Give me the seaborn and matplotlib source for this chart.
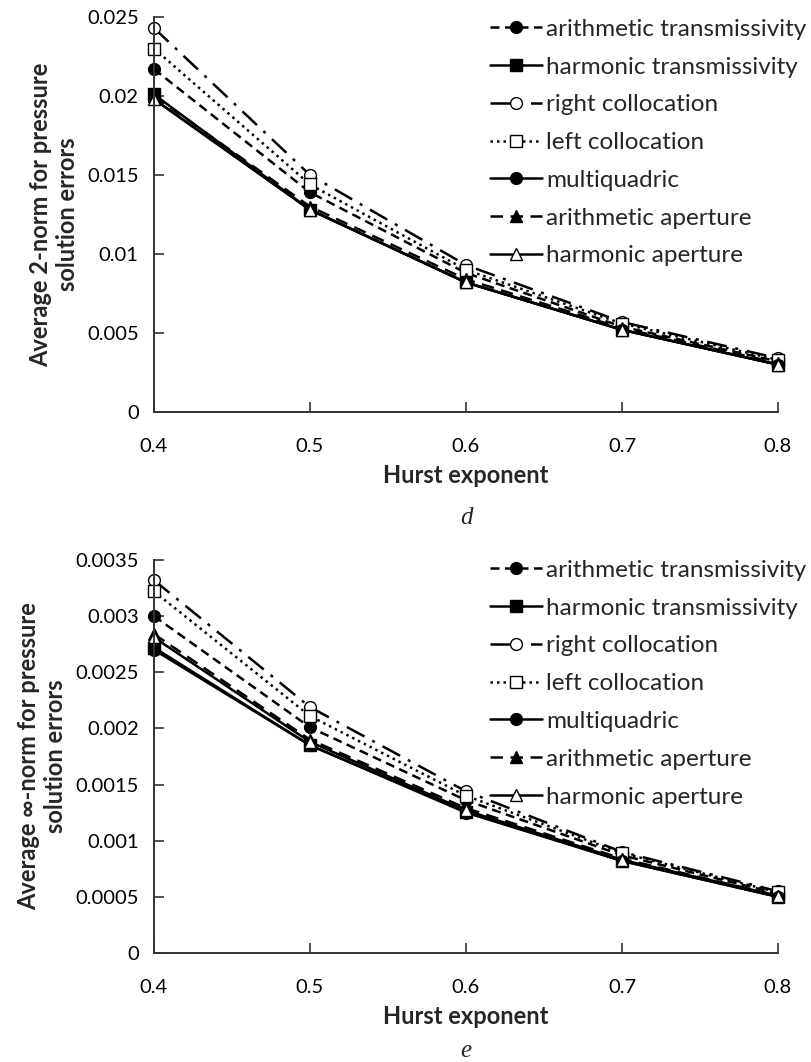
"""
Average 2-norm / inf-norm pressure solution errors vs Hurst exponent
for the seven interface averaging schemes (panels d and e).
"""

import matplotlib.pyplot as plt
import seaborn as sns

# Hurst exponent values
hurst = [0.4, 0.5, 0.6, 0.7, 0.8]

series_names = [
    "arithmetic transmissivity",
    "harmonic transmissivity",
    "right collocation",
    "left collocation",
    "multiquadric",
    "arithmetic aperture",
    "harmonic aperture",
]

# panel d: average 2-norm
l2_arith_trans = [0.0217, 0.0139, 0.0088, 0.0054, 0.0032]
l2_harm_trans = [0.0201, 0.0128, 0.0082, 0.0052, 0.0030]
l2_right_coll = [0.0243, 0.0150, 0.0093, 0.0057, 0.0034]
l2_left_coll = [0.0230, 0.0144, 0.0090, 0.0056, 0.0033]
l2_multiquad = [0.0198, 0.0128, 0.0082, 0.0052, 0.0030]
l2_arith_ap = [0.0200, 0.0130, 0.0084, 0.0053, 0.0031]
l2_harm_ap = [0.0198, 0.0128, 0.0082, 0.0052, 0.0030]

# panel e: average inf-norm
inf_arith_trans = [0.00300, 0.00201, 0.00136, 0.00087, 0.00053]
inf_harm_trans = [0.00272, 0.00185, 0.00126, 0.00082, 0.00050]
inf_right_coll = [0.00332, 0.00219, 0.00144, 0.00090, 0.00055]
inf_left_coll = [0.00322, 0.00211, 0.00140, 0.00089, 0.00054]
inf_multiquad = [0.00270, 0.00185, 0.00125, 0.00082, 0.00050]
inf_arith_ap = [0.00284, 0.00190, 0.00129, 0.00084, 0.00051]
inf_harm_ap = [0.00281, 0.00188, 0.00127, 0.00083, 0.00051]

y_ticks_d = [0, 0.005, 0.01, 0.015, 0.02, 0.025]
y_ticks_e = [0, 0.0005, 0.001, 0.0015, 0.002, 0.0025, 0.003, 0.0035]
x_ticks = [0.4, 0.5, 0.6, 0.7, 0.8]

# (linestyle, marker, filled)
_STYLES = [
    ((0, (3.6, 2.2)), "o", True),
    ("-", "s", True),
    ((0, (8, 3.5, 1.2, 3.5)), "o", False),
    ((0, (1, 1.6)), "s", False),
    ("-", "o", True),
    ((0, (5, 3)), "^", True),
    ("-", "^", False),
]

sns.set_theme(style="ticks")
plt.rcParams["font.family"] = ["Lato", "DejaVu Sans"]

fig = plt.figure(figsize=(8.11, 10.62), dpi=100)
ax_d = fig.add_axes([154 / 811, 650 / 1062, 624 / 811, 395 / 1062])
ax_e = fig.add_axes([154 / 811, 109 / 1062, 624 / 811, 393 / 1062])

panels = [
    (ax_d, [l2_arith_trans, l2_harm_trans, l2_right_coll, l2_left_coll,
            l2_multiquad, l2_arith_ap, l2_harm_ap],
     y_ticks_d, ["0", "0.005", "0.01", "0.015", "0.02", "0.025"],
     "Average 2-norm for pressure\nsolution errors", "d", 0.9915, -106),
    (ax_e, [inf_arith_trans, inf_harm_trans, inf_right_coll, inf_left_coll,
            inf_multiquad, inf_arith_ap, inf_harm_ap],
     y_ticks_e, ["0", "0.0005", "0.001", "0.0015", "0.002", "0.0025", "0.003", "0.0035"],
     "Average \u221e-norm for pressure\nsolution errors", "e", 0.482, -98),
]

for ax, values, yticks, ylabels, ylabel, tag, leg_top, tag_dy in panels:
    for name, y, (ls, mk, filled) in zip(series_names, values, _STYLES):
        sns.lineplot(
            x=hurst, y=y, ax=ax, color="black", linestyle=ls, linewidth=1.8,
            marker=mk, markersize=8.5 if mk != "^" else 8,
            markerfacecolor="black" if filled else "white",
            markeredgecolor="black", markeredgewidth=1.0,
            label=name, clip_on=False,
        )
    ax.set_xlim(0.4, 0.8)
    ax.set_ylim(yticks[0], yticks[-1])
    ax.set_xticks(x_ticks)
    ax.set_xticklabels([f"{v:.1f}" for v in x_ticks])
    ax.set_yticks(yticks)
    ax.set_yticklabels(ylabels)
    ax.tick_params(direction="in", length=7, width=1.2, colors="#333333",
                   labelcolor="black", labelsize=14.5)
    ax.tick_params(axis="x", pad=19)
    ax.tick_params(axis="y", pad=11)
    for side in ("left", "bottom"):
        ax.spines[side].set_color("#333333")
        ax.spines[side].set_linewidth(1.4)
    sns.despine(ax=ax)
    ax.set_xlabel("Hurst exponent", fontsize=17, fontweight="bold", labelpad=6)
    ax.set_ylabel(ylabel, fontsize=17, fontweight="bold", labelpad=6)
    ax.legend(
        loc="upper left", bbox_to_anchor=(480 / 811, leg_top),
        bbox_transform=fig.transFigure, frameon=False, fontsize=17.5,
        handlelength=2.15, handletextpad=0.17, labelspacing=0.69,
        borderaxespad=0,
    )
    ax.annotate(tag, xy=(0.5, 0), xycoords="axes fraction",
                xytext=(0, tag_dy * 72 / 100), textcoords="offset points",
                ha="center", va="center", fontsize=18, fontstyle="italic",
                family="Liberation Serif")

fig.savefig("out.png", dpi=100)
plt.close(fig)
